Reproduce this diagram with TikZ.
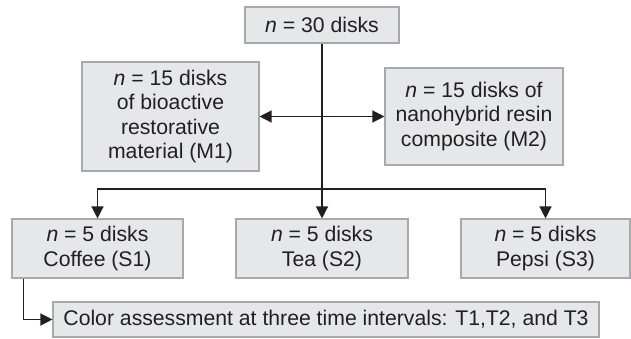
\documentclass[tikz,border=0pt]{standalone}
\usepackage{fontspec}
\setmainfont{Liberation Sans}
\usetikzlibrary{arrows.meta}
\definecolor{boxfill}{HTML}{E6E7E8}
\definecolor{boxline}{HTML}{A7A9AC}
\definecolor{ink}{HTML}{231F20}
\begin{document}
\begin{tikzpicture}[x=1pt,y=-1pt,
  box/.style={draw=boxline,fill=boxfill,line width=1.1pt,inner sep=0pt,
    align=center,text=ink,font=\fontsize{21.2}{24.5}\selectfont},
  link/.style={draw=ink,line width=1.3pt,-{Triangle[length=12pt,width=12pt]}}]
\useasboundingbox (0,0) rectangle (631,339);

% boxes
\node[box,minimum width=154pt,minimum height=36pt] (top) at (322,25) {\textit{n} = 30 disks};
\node[box,minimum width=177pt,minimum height=109pt] (m1) at (170.5,116.5)
  {\textit{n} = 15 disks\\of bioactive\\restorative\\material (M1)};
\node[box,minimum width=178pt,minimum height=97pt] (m2) at (474,116.5)
  {\textit{n} = 15 disks of\\nanohybrid resin\\composite (M2)};
\node[box,minimum width=171pt,minimum height=59pt] (s1) at (97.5,248.5)
  {\textit{n} = 5 disks\\Coffee (S1)};
\node[box,minimum width=172pt,minimum height=59pt] (s2) at (322,248.5)
  {\textit{n} = 5 disks\\Tea (S2)};
\node[box,minimum width=169pt,minimum height=59pt] (s3) at (545.5,248.5)
  {\textit{n} = 5 disks\\Pepsi (S3)};
\node[box,minimum width=546pt,minimum height=35pt] (col) at (326,319.5)
  {Color assessment at three time intervals: T1,T2, and T3};

% connectors
\coordinate (split) at (322,189);
\draw[link] (top.south) -- (s2.north);
\draw[link,{Triangle[length=12pt,width=12pt]}-{Triangle[length=12pt,width=12pt]}] (m1.east) -- (m2.west);
\draw[link] (split) -| (s1.north);
\draw[link] (split) -| (s3.north);
\coordinate (s1out) at ([xshift=12pt]s1.south west);
\draw[link] (s1out) |- (col.west);
\end{tikzpicture}
\end{document}
